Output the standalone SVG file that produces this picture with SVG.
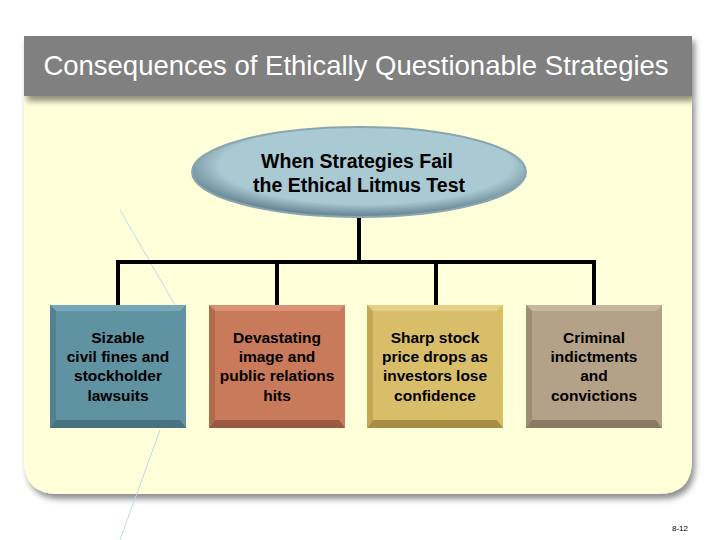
<svg xmlns="http://www.w3.org/2000/svg" width="720" height="540" viewBox="0 0 720 540">
<defs>
<filter id="sh" x="-10%" y="-10%" width="130%" height="130%"><feGaussianBlur in="SourceAlpha" stdDeviation="3"/><feOffset dx="3" dy="5"/><feComponentTransfer><feFuncA type="linear" slope="0.45"/></feComponentTransfer><feMerge><feMergeNode/><feMergeNode in="SourceGraphic"/></feMerge></filter>
<radialGradient id="eg" cx="0.52" cy="0.42" r="0.56"><stop offset="0.78" stop-color="#a9c9d3"/><stop offset="1" stop-color="#6a8896"/></radialGradient>
<style>
.t{font-family:"Liberation Sans",Arial,sans-serif;font-weight:bold;font-size:15.5px;fill:#000;text-anchor:middle}
.e{font-size:19.5px}
.c{stroke:#000;stroke-width:4;fill:none}
</style>
</defs>
<rect width="720" height="540" fill="#fff"/>
<path d="M24 96 H692 V460 Q692 494 658 494 H58 Q24 494 24 460 Z" fill="#ffffd9" filter="url(#sh)"/>
<rect x="24" y="36" width="668" height="60" fill="#808080" filter="url(#sh)"/>
<text x="356" y="75" font-family="'Liberation Sans',Arial,sans-serif" font-size="27.5" fill="#fff" text-anchor="middle">Consequences of Ethically Questionable Strategies</text>
<g stroke="#bcdbe6" stroke-width="1" fill="none">
<line x1="120" y1="210" x2="175" y2="305"/>
<line x1="160" y1="430" x2="120" y2="540"/>
</g>
<g id="connectors">
<path class="c" d="M359 216 V262 M118 262 H596 M118 260 V305 M277 260 V305 M436 260 V305 M594 260 V305"/>
</g>
<g id="root">
<ellipse cx="359" cy="172" rx="167" ry="45" fill="url(#eg)" stroke="#8aa5b0" stroke-width="2"/>
<text class="t e" x="357" y="168">When Strategies Fail</text>
<text class="t e" x="359" y="192">the Ethical Litmus Test</text>
</g>
<g id="n1">
<rect x="50" y="305" width="136" height="123" fill="#5f93a2"/>
<path d="M50 305 H186 L180 311 H56 Z" fill="#78a8b6"/>
<path d="M50 428 H186 L180 420 H56 Z" fill="#467380"/>
<path d="M50 305 L56 311 V420 L50 428 Z" fill="#52828f"/>
<text class="t" x="118" y="343">Sizable</text><text class="t" x="118" y="362">civil fines and</text><text class="t" x="118" y="381">stockholder</text><text class="t" x="118" y="401">lawsuits</text>
</g>
<g id="n2">
<rect x="209" y="305" width="136" height="123" fill="#c97a5a"/>
<path d="M209 305 H345 L339 311 H215 Z" fill="#d99275"/>
<path d="M209 428 H345 L339 420 H215 Z" fill="#9a5a40"/>
<path d="M209 305 L215 311 V420 L209 428 Z" fill="#b06a4d"/>
<text class="t" x="277" y="343">Devastating</text><text class="t" x="277" y="362">image and</text><text class="t" x="277" y="381">public relations</text><text class="t" x="277" y="401">hits</text>
</g>
<g id="n3">
<rect x="367" y="305" width="136" height="123" fill="#d9be6a"/>
<path d="M367 305 H503 L497 311 H373 Z" fill="#e6cf85"/>
<path d="M367 428 H503 L497 420 H373 Z" fill="#a68e45"/>
<path d="M367 305 L373 311 V420 L367 428 Z" fill="#c2a855"/>
<text class="t" x="435" y="343">Sharp stock</text><text class="t" x="435" y="362">price drops as</text><text class="t" x="435" y="381">investors lose</text><text class="t" x="435" y="401">confidence</text>
</g>
<g id="n4">
<rect x="526" y="305" width="136" height="123" fill="#b3a287"/>
<path d="M526 305 H662 L656 311 H532 Z" fill="#c6b79d"/>
<path d="M526 428 H662 L656 420 H532 Z" fill="#8a7a62"/>
<path d="M526 305 L532 311 V420 L526 428 Z" fill="#9d8d73"/>
<text class="t" x="594" y="343">Criminal</text><text class="t" x="594" y="362">indictments</text><text class="t" x="594" y="381">and</text><text class="t" x="594" y="401">convictions</text>
</g>
<text x="680" y="531" font-family="'Liberation Sans',Arial,sans-serif" font-size="8" fill="#000" text-anchor="middle">8-12</text>
</svg>
